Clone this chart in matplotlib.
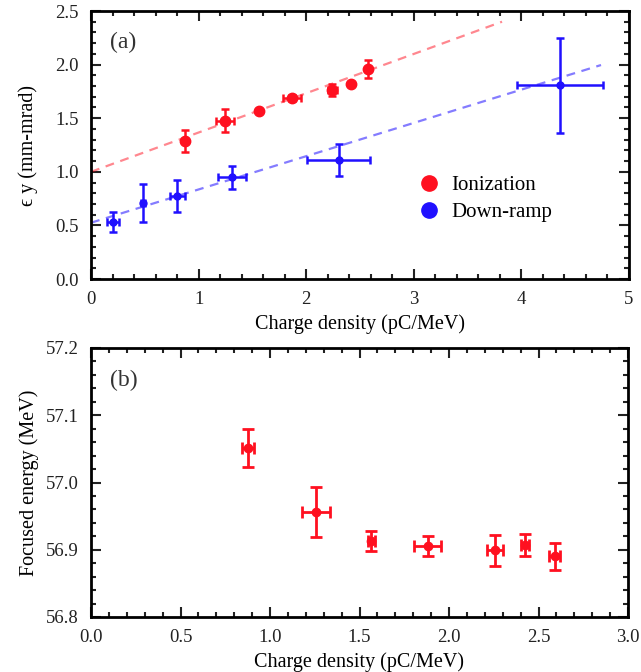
import matplotlib
matplotlib.use("Agg")
import matplotlib.pyplot as plt
import numpy as np
from matplotlib.ticker import MultipleLocator, FormatStrFormatter
from matplotlib.lines import Line2D

plt.rcParams['font.family'] = ['Liberation Serif', 'DejaVu Serif']

# ---- panel (a) data ----
ion_x = [0.876, 1.245, 1.561, 1.868, 2.243, 2.413, 2.577]
ion_y = [1.287, 1.477, 1.570, 1.686, 1.763, 1.819, 1.956]
ion_xerr = [0.02, 0.08, 0.0, 0.08, 0.04, 0.0, 0.02]
ion_yerr = [0.10, 0.11, 0.0, 0.03, 0.06, 0.0, 0.084]

dr_x = [0.207, 0.486, 0.802, 1.307, 2.302, 4.362]
dr_y = [0.532, 0.709, 0.777, 0.949, 1.113, 1.807]
dr_xerr = [0.055, 0.02, 0.07, 0.13, 0.29, 0.40]
dr_yerr = [0.095, 0.18, 0.15, 0.105, 0.15, 0.445]

ion_fit_x = [0.0, 3.82]
ion_fit_y = [1.00, 2.40]
dr_fit_x = [0.0, 4.74]
dr_fit_y = [0.525, 1.996]

# ---- panel (b) data ----
fe_x = [0.878, 1.255, 1.567, 1.882, 2.257, 2.425, 2.590]
fe_y = [57.051, 56.956, 56.913, 56.906, 56.899, 56.907, 56.890]
fe_xerr = [0.035, 0.078, 0.02, 0.075, 0.046, 0.02, 0.03]
fe_yerr = [0.0285, 0.0375, 0.015, 0.015, 0.023, 0.017, 0.02]

RED = '#ff1020'
BLUE = '#2010ff'

fig = plt.figure(figsize=(6.41, 6.72), dpi=100)
ax1 = fig.add_axes([91/641, 1-279/672, 538/641, 268/672])
ax2 = fig.add_axes([91/641, 1-617/672, 537/641, 269/672])

# fits
ax1.plot(ion_fit_x, ion_fit_y, ls=(0, (4, 3)), color=RED, alpha=0.5, lw=1.6)
ax1.plot(dr_fit_x, dr_fit_y, ls=(0, (4, 3)), color=BLUE, alpha=0.55, lw=1.6)

ax1.errorbar(ion_x, ion_y, xerr=ion_xerr, yerr=ion_yerr, fmt='o', color=RED,
             ms=7.5, elinewidth=1.8, capsize=3, capthick=1.8)
ax1.errorbar(dr_x, dr_y, xerr=dr_xerr, yerr=dr_yerr, fmt='o', color=BLUE,
             ms=5, elinewidth=1.8, capsize=3, capthick=1.8)

ax1.set_xlim(0, 5)
ax1.set_ylim(0, 2.5)
ax1.xaxis.set_major_locator(MultipleLocator(1))
ax1.xaxis.set_minor_locator(MultipleLocator(0.2))
ax1.yaxis.set_major_locator(MultipleLocator(0.5))
ax1.yaxis.set_minor_locator(MultipleLocator(0.1))
ax1.xaxis.set_major_formatter(FormatStrFormatter('%d'))
ax1.yaxis.set_major_formatter(FormatStrFormatter('%.1f'))
ax1.set_xlabel('Charge density (pC/MeV)', fontsize=14.5, labelpad=4)
ax1.set_ylabel('ϵ y (mm-mrad)', fontsize=14.5, labelpad=12)
ax1.text(0.035, 0.86, '(a)', transform=ax1.transAxes, fontsize=17, color='#333333')

handles = [Line2D([], [], marker='o', ls='none', color=RED, ms=11),
           Line2D([], [], marker='o', ls='none', color=BLUE, ms=11)]
ax1.legend(handles, ['Ionization', 'Down-ramp'], loc='upper left',
           bbox_to_anchor=(0.565, 0.455), frameon=False, fontsize=15,
           handletextpad=0.3, labelspacing=0.35, handlelength=1.5)

ax2.errorbar(fe_x, fe_y, xerr=fe_xerr, yerr=fe_yerr, fmt='o', color=RED,
             ms=6, elinewidth=2, capsize=4, capthick=2)
ax2.set_xlim(0, 3)
ax2.set_ylim(56.8, 57.2)
ax2.xaxis.set_major_locator(MultipleLocator(0.5))
ax2.xaxis.set_minor_locator(MultipleLocator(0.1))
ax2.yaxis.set_major_locator(MultipleLocator(0.1))
ax2.yaxis.set_minor_locator(MultipleLocator(0.02))
ax2.xaxis.set_major_formatter(FormatStrFormatter('%.1f'))
ax2.yaxis.set_major_formatter(FormatStrFormatter('%.1f'))
ax2.set_xlabel('Charge density (pC/MeV)', fontsize=14.5, labelpad=4)
ax2.set_ylabel('Focused energy (MeV)', fontsize=14.5, labelpad=5)
ax2.text(0.035, 0.86, '(b)', transform=ax2.transAxes, fontsize=17, color='#333333')

for ax in (ax1, ax2):
    for s in ax.spines.values():
        s.set_linewidth(2)
    ax.tick_params(which='both', direction='in', top=True, right=True,
                   labelsize=13.5, colors='#222222', width=1.5)
    ax.tick_params(which='major', length=7)
    ax.tick_params(which='minor', length=3.5)
    ax.tick_params(axis='x', pad=9)
    ax.tick_params(axis='y', pad=9)

fig.savefig('out.png', dpi=100)
